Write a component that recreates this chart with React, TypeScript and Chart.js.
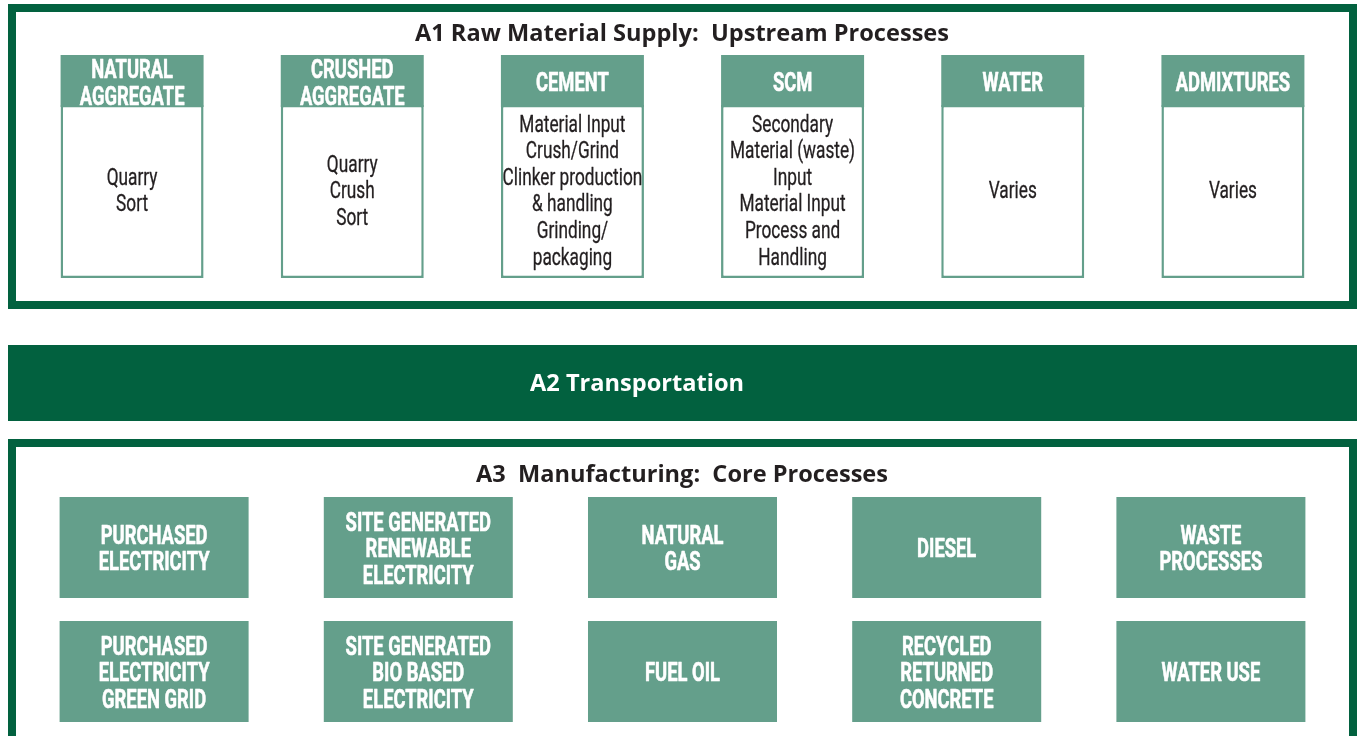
import React, { useEffect, useRef } from "react";
import { Chart, registerables } from "chart.js";

Chart.register(...registerables);

// ---- data ----
const stageTitles = [
  "A1 Raw Material Supply:  Upstream Processes",
  "A2 Transportation",
  "A3  Manufacturing:  Core Processes",
];
const rawMaterials = ["NATURAL\nAGGREGATE", "CRUSHED\nAGGREGATE", "CEMENT", "SCM", "WATER", "ADMIXTURES"];
const rawMaterialSteps = [
  ["Quarry", "Sort"],
  ["Quarry", "Crush", "Sort"],
  ["Material Input", "Crush/Grind", "Clinker production", "& handling", "Grinding/", "packaging"],
  ["Secondary", "Material (waste)", "Input", "Material Input", "Process and", "Handling"],
  ["Varies"],
  ["Varies"],
];
const coreProcessesRow1 = [
  "PURCHASED\nELECTRICITY",
  "SITE GENERATED\nRENEWABLE\nELECTRICITY",
  "NATURAL\nGAS",
  "DIESEL",
  "WASTE\nPROCESSES",
];
const coreProcessesRow2 = [
  "PURCHASED\nELECTRICITY\nGREEN GRID",
  "SITE GENERATED\nBIO BASED\nELECTRICITY",
  "FUEL OIL",
  "RECYCLED\nRETURNED\nCONCRETE",
  "WATER USE",
];

// ---- layout (vertical spans in y-scale units) ----
const LAYOUT = {
  a1Frame: [4, 309],
  a1Title: 32.5,
  header: [55, 107],
  body: [105, 278],
  a2Band: [345, 421],
  a3Frame: [439, 780],
  a3Title: 474,
  row1: [497, 598],
  row2: [621, 722],
  frameLeft: 8,
  frameRight: 1357,
  frameLine: 8,
};
const TITLE_WIDTHS = [534, 214, 412];
const TITLE_CENTERS = [682, 637, 682];

const DARK = "#02613f";
const MID = "#649f8b";
const INK = "#231f20";

const CAP = 0.71;

function drawLines(
  ctx: CanvasRenderingContext2D,
  lines: string[],
  cx: number,
  cy: number,
  size: number,
  weight: string,
  family: string,
  color: string,
  sx: number,
  lineH: number,
  stroke: number
) {
  ctx.save();
  ctx.font = `${weight} ${size}px ${family}`;
  ctx.fillStyle = color;
  ctx.strokeStyle = color;
  ctx.lineWidth = stroke;
  ctx.lineJoin = "round";
  ctx.textAlign = "center";
  ctx.textBaseline = "alphabetic";
  const n = lines.length;
  lines.forEach((l, i) => {
    const y = cy + (i - (n - 1) / 2) * lineH + (size * CAP) / 2;
    ctx.save();
    ctx.translate(cx, y);
    ctx.scale(sx, 1);
    ctx.fillText(l, 0, 0);
    if (stroke > 0) ctx.strokeText(l, 0, 0);
    ctx.restore();
  });
  ctx.restore();
}

function drawFitted(
  ctx: CanvasRenderingContext2D,
  text: string,
  cx: number,
  cy: number,
  size: number,
  family: string,
  color: string,
  width: number
) {
  ctx.save();
  ctx.font = `700 ${size}px ${family}`;
  const w = ctx.measureText(text).width;
  const sx = width / w;
  ctx.fillStyle = color;
  ctx.textAlign = "center";
  ctx.textBaseline = "alphabetic";
  ctx.translate(cx, cy + (size * CAP) / 2);
  ctx.scale(sx, 1);
  ctx.fillText(text, 0, 0);
  ctx.restore();
}

const COND = "Roboto, 'DejaVu Sans', sans-serif";
const TITLE = "'Open Sans', Lato, sans-serif";

const framePlugin = {
  id: "frames",
  beforeDatasetsDraw(chart: any) {
    const ctx = chart.ctx as CanvasRenderingContext2D;
    const y = chart.scales.y;
    const L = LAYOUT;
    const half = L.frameLine / 2;
    ctx.save();
    ctx.fillStyle = "#ffffff";
    ctx.fillRect(0, 0, chart.width, chart.height);
    ctx.strokeStyle = DARK;
    ctx.lineWidth = L.frameLine;
    const a1t = y.getPixelForValue(L.a1Frame[0]);
    const a1b = y.getPixelForValue(L.a1Frame[1]);
    ctx.strokeRect(L.frameLeft + half, a1t + half, L.frameRight - L.frameLeft - L.frameLine, a1b - a1t - L.frameLine);
    const a2t = y.getPixelForValue(L.a2Band[0]);
    const a2b = y.getPixelForValue(L.a2Band[1]);
    ctx.fillStyle = DARK;
    ctx.fillRect(L.frameLeft, a2t, L.frameRight - L.frameLeft, a2b - a2t);
    const a3t = y.getPixelForValue(L.a3Frame[0]);
    const a3b = y.getPixelForValue(L.a3Frame[1]);
    ctx.strokeRect(L.frameLeft + half, a3t + half, L.frameRight - L.frameLeft - L.frameLine, a3b - a3t - L.frameLine);
    ctx.restore();
  },
  afterDatasetsDraw(chart: any) {
    const ctx = chart.ctx as CanvasRenderingContext2D;
    const y = chart.scales.y;
    const L = LAYOUT;
    drawFitted(ctx, stageTitles[0], TITLE_CENTERS[0], y.getPixelForValue(L.a1Title), 23.5, TITLE, INK, TITLE_WIDTHS[0]);
    drawFitted(ctx, stageTitles[1], TITLE_CENTERS[1], y.getPixelForValue((L.a2Band[0] + L.a2Band[1]) / 2), 23.5, TITLE, "#ffffff", TITLE_WIDTHS[1]);
    drawFitted(ctx, stageTitles[2], TITLE_CENTERS[2], y.getPixelForValue(L.a3Title), 23.5, TITLE, INK, TITLE_WIDTHS[2]);

    const headMeta = chart.getDatasetMeta(0);
    const hc = y.getPixelForValue((L.header[0] + L.header[1]) / 2) + 1;
    const bc = y.getPixelForValue((L.body[0] + L.body[1]) / 2) - 1.5;
    rawMaterials.forEach((lab, i) => {
      const cx = headMeta.data[i].x;
      drawLines(ctx, lab.split("\n"), cx, hc, 25.5, "700", COND, "#ffffff", 0.72, 27, 0.6);
      drawLines(ctx, rawMaterialSteps[i], cx, bc, 23, "400", COND, INK, 0.75, 26.6, 0.3);
    });
    [coreProcessesRow1, coreProcessesRow2].forEach((row, r) => {
      const meta = chart.getDatasetMeta(2 + r);
      const span = r === 0 ? L.row1 : L.row2;
      const cy = y.getPixelForValue((span[0] + span[1]) / 2) + 0.5;
      row.forEach((lab, i) => {
        drawLines(ctx, lab.split("\n"), meta.data[i].x, cy, 25.5, "700", COND, "#ffffff", 0.72, 26.5, 0.6);
      });
    });
  },
};

export default function App() {
  const ref = useRef<HTMLCanvasElement>(null);
  useEffect(() => {
    document.body.style.margin = "0";
    const canvas = ref.current!;
    const common = { grouped: false, categoryPercentage: 1, borderSkipped: false as const };
    const chart = new Chart(canvas, {
      type: "bar",
      data: {
        datasets: [
          {
            ...common,
            label: "header",
            xAxisID: "xa1",
            yAxisID: "y",
            data: rawMaterials.map(() => LAYOUT.header as [number, number]),
            backgroundColor: MID,
            borderWidth: 0,
            barPercentage: 0.6495,
          },
          {
            ...common,
            label: "body",
            xAxisID: "xa1",
            yAxisID: "y",
            data: rawMaterials.map(() => LAYOUT.body as [number, number]),
            backgroundColor: "#ffffff",
            borderColor: MID,
            borderWidth: 2.5,
            barPercentage: 0.6495,
          },
          {
            ...common,
            label: "row1",
            xAxisID: "xa3",
            yAxisID: "y",
            data: coreProcessesRow1.map(() => LAYOUT.row1 as [number, number]),
            backgroundColor: MID,
            borderWidth: 0,
            barPercentage: 0.7154,
          },
          {
            ...common,
            label: "row2",
            xAxisID: "xa3",
            yAxisID: "y",
            data: coreProcessesRow2.map(() => LAYOUT.row2 as [number, number]),
            backgroundColor: MID,
            borderWidth: 0,
            barPercentage: 0.7154,
          },
        ] as any,
      },
      options: {
        animation: false,
        responsive: false,
        devicePixelRatio: 1,
        events: [],
        layout: { padding: { left: 22, right: 15, top: 0, bottom: 0 } },
        plugins: { legend: { display: false }, tooltip: { enabled: false } },
        scales: {
          xa1: { type: "category", labels: rawMaterials, display: false, offset: true },
          xa3: { type: "category", labels: coreProcessesRow1, display: false, offset: true },
          y: { type: "linear", min: 0, max: 736, reverse: true, display: false },
        } as any,
      },
      plugins: [framePlugin],
    });
    return () => chart.destroy();
  }, []);
  return (
    <div style={{ width: 1358, height: 736 }}>
      <canvas ref={ref} width={1358} height={736} style={{ display: "block" }} />
    </div>
  );
}
